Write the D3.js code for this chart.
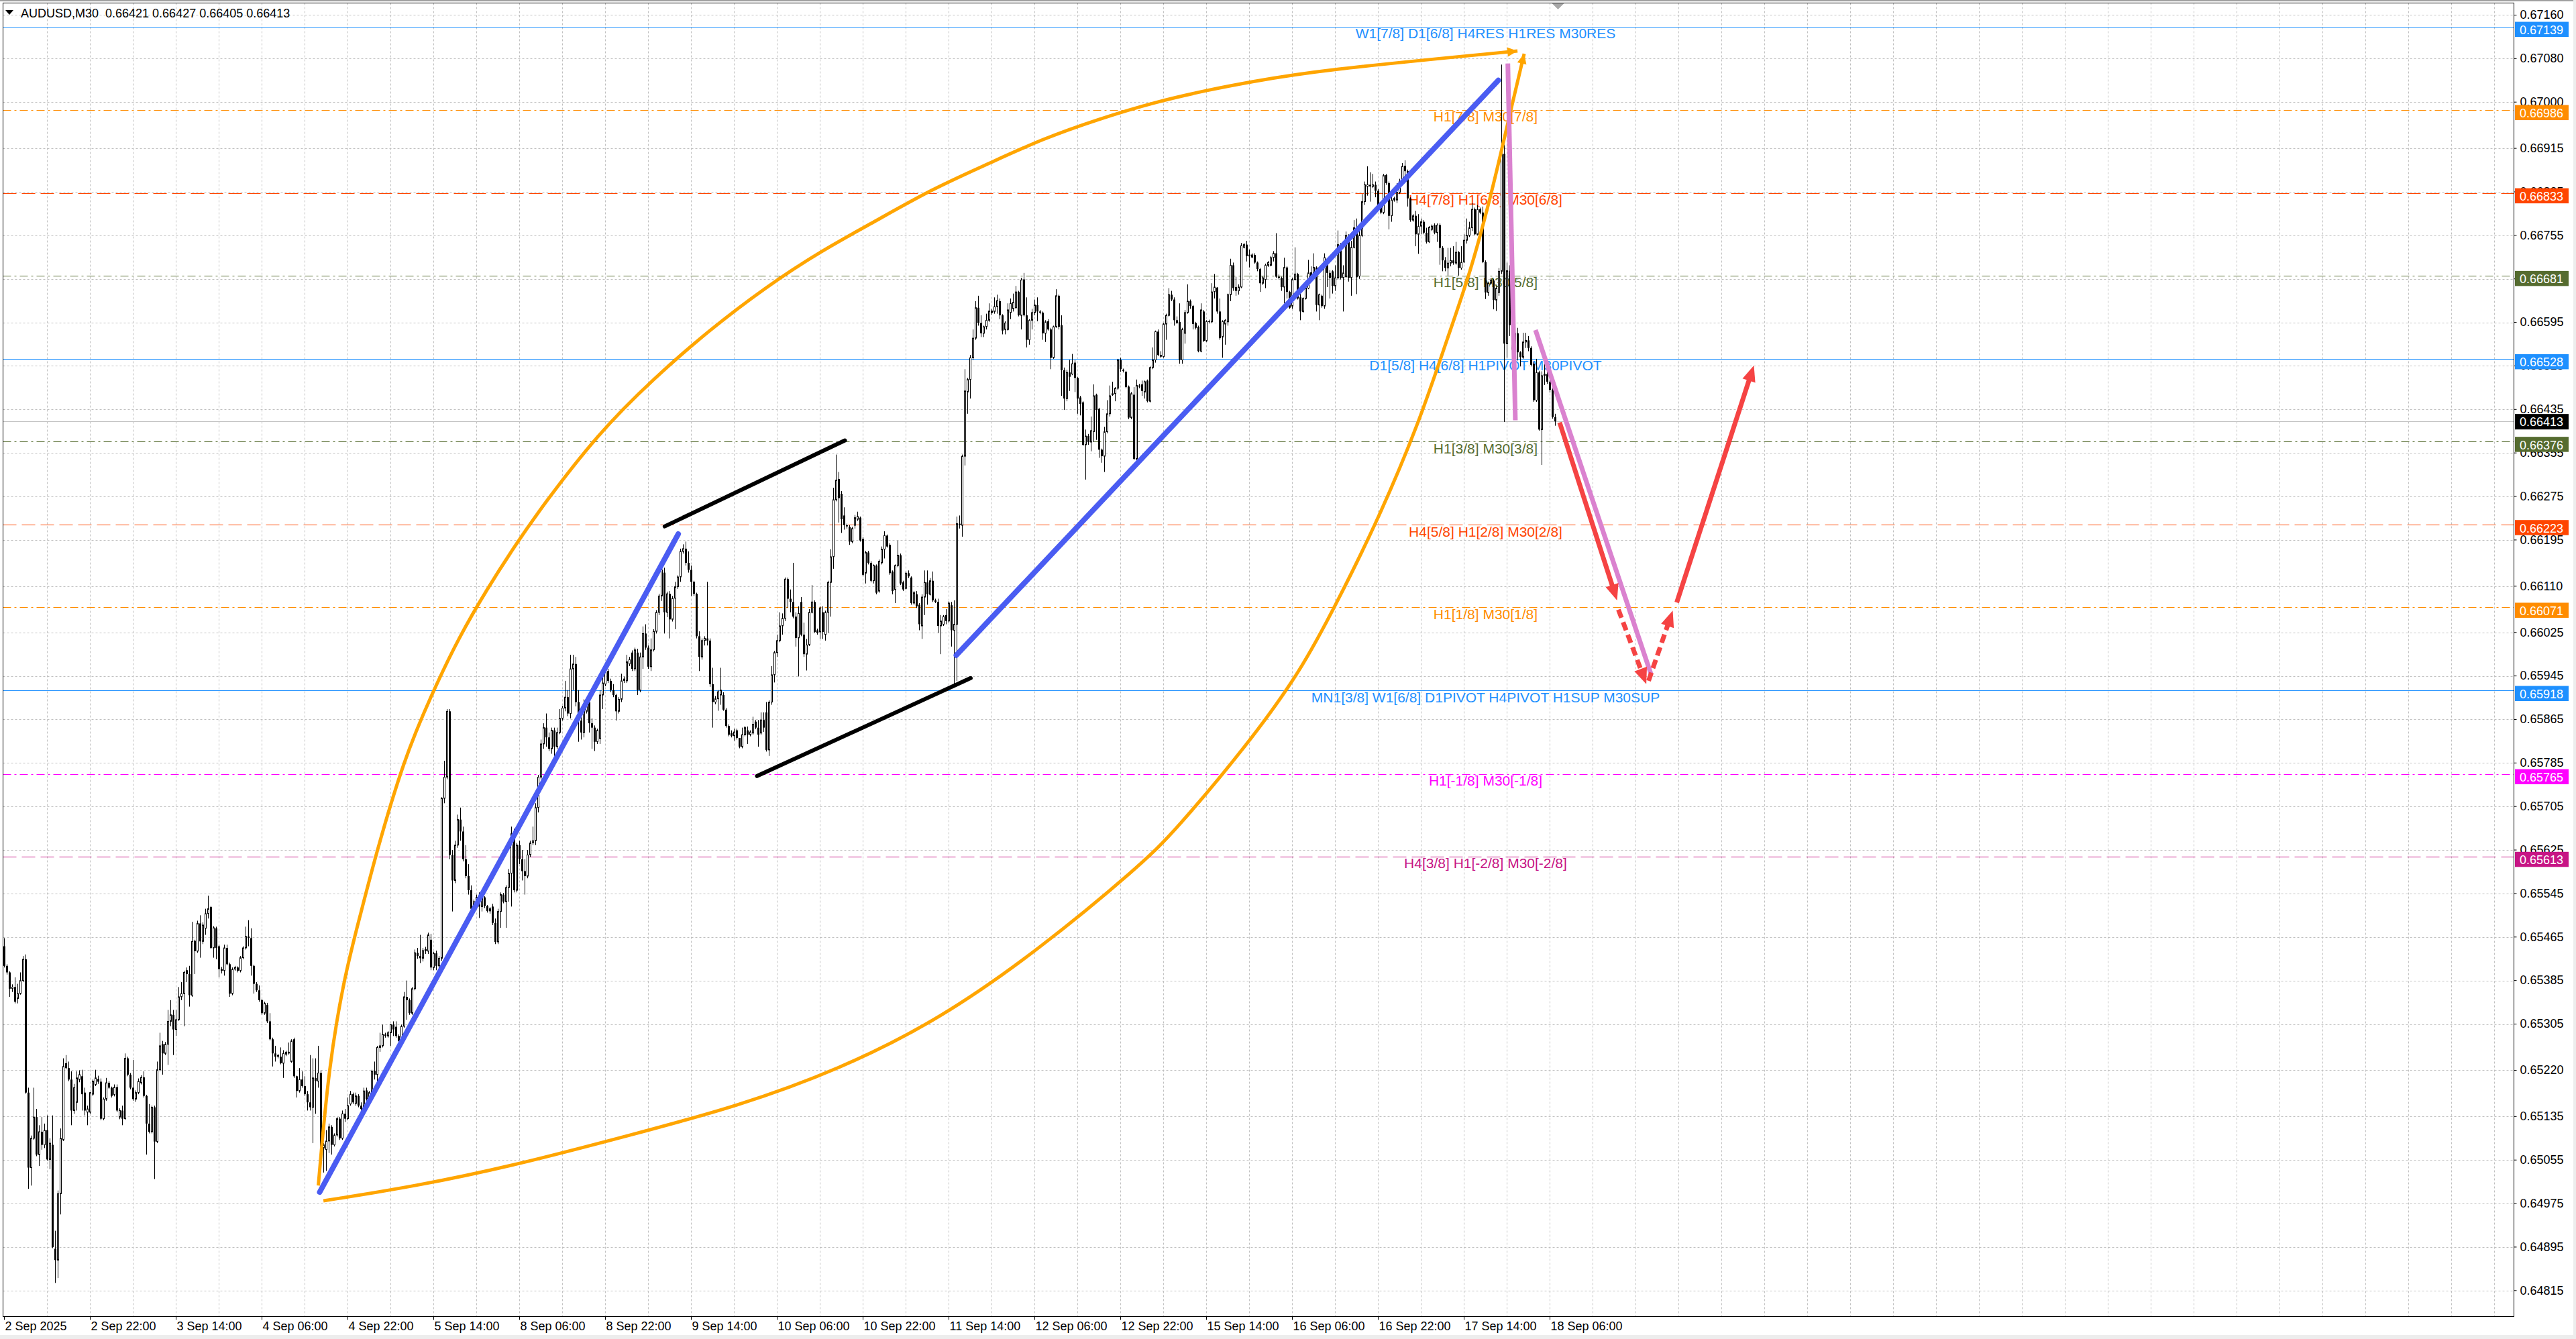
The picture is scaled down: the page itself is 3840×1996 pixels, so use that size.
<!doctype html>
<html lang="en">
<head>
<meta charset="utf-8">
<script src="https://cdnjs.cloudflare.com/ajax/libs/d3/7.8.5/d3.min.js"></script>
<style>
  html, body { margin:0; padding:0; background:#fff; }
  svg { display:block; }
  text { font-family: "Liberation Sans", Arial, sans-serif; }
</style>
</head>
<body>
<svg id="chart" width="3840" height="1996"></svg>
<script>
// AUDUSD M30 candles, prices in points (1e-5)
const opens = [
65448,65412,65400,65370,65373,65352,65361,65385,65424,65179,
65041,65095,65134,65065,65107,65083,65110,65056,65083,64892,
64871,64993,65092,65233,65224,65203,65146,65161,65203,65209,
65179,65143,65143,65176,65194,65204,65199,65131,65167,65197,
65188,65175,65189,65134,65146,65131,65242,65212,65188,65167,
65179,65197,65207,65173,65122,65107,65152,65089,65221,65268,
65251,65268,65310,65322,65295,65313,65355,65361,65404,65397,
65358,65458,65439,65490,65457,65481,65508,65520,65445,65481,
65448,65406,65403,65445,65415,65361,65406,65409,65403,65427,
65445,65466,65463,65412,65379,65367,65349,65325,65340,65310,
65277,65251,65248,65245,65233,65254,65254,65236,65277,65209,
65182,65203,65191,65176,65161,65152,65206,65200,65215,65077,
65074,65090,65116,65083,65101,65131,65095,65140,65131,65158,
65176,65159,65173,65155,65149,65183,65167,65179,65219,65212,
65262,65265,65286,65283,65289,65304,65300,65283,65274,65301,
65355,65349,65325,65370,65436,65430,65426,65443,65439,65460,
65409,65435,65412,65426,65720,65759,65880,65616,65569,65634,
65681,65659,65608,65577,65551,65517,65530,65538,65521,65538,
65522,65513,65521,65491,65456,65512,65543,65530,65556,65582,
65655,65551,65634,65608,65586,65577,65616,65638,65642,65703,
65759,65820,65850,65832,65811,65845,65815,65841,65867,65886,
65906,65876,65958,65967,65897,65863,65841,65880,65897,65858,
65850,65824,65830,65910,65930,65954,65936,65919,65910,65880,
65902,65940,65936,65967,65988,65958,65988,65919,65980,66023,
65997,65962,65993,66027,66062,66092,66135,66062,66096,66049,
66088,66109,66127,66174,66179,66153,66140,66118,66096,66018,
65980,66010,66014,66010,65930,65897,65903,65910,65910,65883,
65853,65840,65835,65845,65831,65815,65837,65845,65837,65840,
65861,65850,65840,65864,65878,65809,65897,65947,65988,66010,
66037,66051,66123,66087,66081,66054,66015,66081,66021,65985,
66002,66062,66081,66029,66026,66062,66021,66062,66117,66164,
66269,66307,66280,66240,66222,66219,66192,66222,66233,66236,
66197,66134,66172,66153,66120,66148,66101,66153,66178,66203,
66186,66137,66104,66148,66167,66117,66106,66134,66126,66079,
66095,66076,66037,66090,66117,66095,66120,66084,66081,66037,
66040,66057,66046,66075,66029,66040,66225,66222,66349,66467,
66490,66530,66566,66622,66594,66575,66587,66599,66613,66615,
66624,66634,66608,66582,66582,66613,66620,66622,66651,66608,
66674,66608,66563,66599,66613,66627,66615,66613,66575,66597,
66582,66530,66587,66644,66590,66507,66455,66503,66500,66521,
66493,66457,66448,66370,66386,66375,66394,66462,66436,66361,
66349,66394,66427,66462,66464,66474,66526,66508,66504,66477,
66420,66462,66344,66479,66481,66467,66488,66450,66512,66526,
66578,66535,66532,66592,66608,66646,66637,66599,66596,66526,
66575,66613,66634,66625,66594,66587,66542,66615,66561,66597,
66596,66651,66659,66615,66568,66592,66596,66646,66700,66660,
66653,66660,66733,66738,66717,66715,66719,66705,66693,66667,
66674,66700,66700,66714,66722,66679,66677,66660,66696,66651,
66625,66674,66684,66641,66615,66639,66658,66687,66677,66696,
66627,66644,66625,66703,66686,66689,66662,66677,66738,66677,
66679,66755,66677,66733,66765,66680,66755,66817,66845,66848,
66845,66848,66837,66811,66797,66866,66851,66791,66820,66820,
66834,66854,66883,66873,66823,66783,66791,66757,66772,66780,
66760,66743,66766,66774,66760,66774,66732,66709,66695,66704,
66709,66704,66724,66695,66706,66746,66755,66769,66803,66757,
66803,66797,66706,66650,66667,66672,66636,66650,66689,66905,
66556,66690,66590,66545,66575,66540,66531,66559,66562,66548,
66519,66452,66503,66398,66497,66500,66486,66471,66421
];
const highs = [
65463,65415,65402,65378,65391,65379,65400,65430,65433,65188,
65100,65188,65149,65119,65134,65122,65137,65095,65137,64925,
64999,65113,65242,65248,65236,65218,65195,65218,65220,65221,
65188,65155,65180,65203,65221,65210,65205,65170,65206,65200,
65190,65194,65194,65150,65155,65251,65245,65215,65239,65183,
65205,65211,65218,65175,65158,65155,65155,65236,65289,65274,
65272,65331,65349,65331,65331,65373,65382,65403,65409,65412,
65493,65460,65495,65505,65492,65517,65541,65522,65485,65484,
65451,65410,65451,65451,65418,65409,65412,65411,65430,65448,
65484,65496,65481,65414,65382,65376,65351,65346,65344,65325,
65280,65265,65250,65262,65257,65256,65271,65277,65280,65210,
65224,65218,65209,65182,65248,65242,65242,65265,65220,65086,
65110,65122,65119,65104,65134,65134,65146,65149,65170,65182,
65179,65179,65176,65161,65188,65188,65182,65221,65236,65265,
65289,65304,65289,65292,65304,65310,65310,65286,65304,65364,
65385,65352,65373,65442,65445,65469,65445,65447,65473,65471,
65438,65440,65430,65722,65789,65884,65884,65625,65642,65690,
65703,65668,65634,65599,65560,65534,65543,65547,65551,65540,
65524,65520,65526,65499,65517,65547,65546,65560,65590,65668,
65664,65638,65642,65625,65608,65625,65642,65668,65711,65763,
65828,65858,65876,65841,65850,65850,65850,65884,65890,65936,
65919,65984,65984,65980,65919,65876,65902,65900,65906,65867,
65854,65848,65919,65949,65958,65958,65940,65930,65912,65906,
65949,65944,65984,65980,65992,65997,65995,65988,66036,66040,
66001,66014,66031,66066,66096,66148,66144,66100,66101,66092,
66118,66130,66179,66187,66192,66174,66148,66120,66098,66027,
66014,66018,66118,66014,65960,65908,65919,65960,65915,65886,
65856,65845,65848,65848,65831,65850,65853,65852,65845,65870,
65864,65864,65878,65878,65897,65900,65963,65991,66021,66062,
66060,66126,66126,66104,66153,66062,66073,66090,66043,66013,
66068,66112,66084,66032,66073,66073,66065,66120,66178,66291,
66352,66320,66285,66255,66225,66222,66219,66241,66247,66238,
66200,66175,66175,66156,66150,66150,66159,66183,66211,66205,
66189,66139,66150,66194,66170,66120,66137,66139,66128,66101,
66101,66079,66095,66139,66139,66125,66137,66087,66087,66057,
66057,66068,66082,66081,66084,66238,66240,66352,66509,66493,
66535,66582,66634,66644,66608,66589,66611,66630,66620,66641,
66646,66639,66610,66597,66630,66639,66648,66662,66653,66677,
66686,66641,66601,66620,66637,66641,66618,66615,66599,66601,
66585,66589,66656,66646,66608,66512,66508,66526,66537,66526,
66495,66460,66450,66398,66390,66422,66481,66464,66438,66363,
66403,66452,66479,66486,66476,66528,66530,66510,66506,66479,
66467,66476,66490,66482,66488,66488,66490,66514,66549,66580,
66582,66542,66594,66611,66658,66653,66641,66606,66630,66585,
66618,66665,66637,66627,66596,66589,66630,66618,66599,66600,
66667,66684,66660,66639,66599,66601,66648,66712,66705,66679,
66665,66741,66741,66745,66729,66722,66722,66707,66695,66680,
66703,66708,66717,66726,66759,66683,66679,66714,66698,66653,
66677,66733,66686,66651,66641,66660,66710,66698,66722,66698,
66648,66646,66722,66705,66691,66691,66700,66764,66741,66700,
66762,66757,66745,66783,66786,66769,66831,66854,66882,66871,
66868,66854,66840,66814,66868,66868,66854,66825,66826,66851,
66859,66888,66893,66876,66825,66794,66800,66794,66786,66783,
66769,66772,66775,66777,66777,66777,66735,66715,66732,66732,
66735,66743,66726,66735,66757,66786,66780,66814,66806,66811,
66806,66808,66709,66670,66676,66675,66661,66695,67069,66922,
66705,66700,66610,66590,66585,66542,66576,66576,66570,66551,
66522,66528,66506,66505,66522,66506,66490,66474,66427
];
const lows = [
65409,65396,65355,65364,65343,65343,65359,65382,65177,65002,
65008,65092,65062,65044,65074,65077,65054,65038,64893,64829,
64838,64955,65090,65222,65200,65119,65140,65146,65198,65146,
65137,65119,65140,65173,65191,65195,65128,65128,65164,65186,
65170,65172,65143,65130,65119,65129,65209,65185,65164,65162,
65176,65194,65170,65065,65104,65104,65020,65086,65218,65212,
65248,65230,65301,65248,65283,65311,65349,65301,65382,65337,
65355,65397,65436,65427,65452,65469,65499,65443,65427,65424,
65391,65398,65394,65413,65355,65358,65403,65400,65400,65424,
65442,65448,65394,65361,65364,65346,65322,65322,65307,65275,
65227,65236,65242,65231,65206,65246,65249,65234,65206,65170,
65179,65188,65173,65146,65146,65086,65140,65188,65074,65032,
65035,65068,65065,65080,65098,65092,65092,65125,65128,65155,
65158,65155,65152,65146,65146,65164,65164,65173,65203,65191,
65254,65262,65280,65280,65265,65283,65280,65271,65271,65298,
65313,65322,65322,65367,65425,65417,65420,65434,65434,65404,
65404,65404,65400,65421,65711,65755,65608,65512,65564,65629,
65642,65604,65573,65543,65504,65512,65526,65500,65512,65518,
65510,65508,65487,65452,65452,65482,65527,65482,65530,65521,
65547,65547,65599,65569,65543,65573,65612,65634,65634,65694,
65755,65811,65815,65807,65802,65798,65811,65838,65863,65880,
65871,65867,65919,65889,65824,65828,65832,65876,65841,65811,
65807,65820,65820,65884,65926,65932,65915,65906,65863,65876,
65897,65932,65932,65963,65954,65954,65910,65915,65958,65993,
65958,65954,65990,66023,66057,66083,66023,66053,66014,66045,
66031,66105,66118,66170,66148,66135,66092,66092,66014,65954,
65975,66001,66001,65925,65850,65893,65881,65892,65881,65850,
65834,65832,65826,65828,65812,65812,65834,65820,65834,65837,
65847,65815,65837,65842,65806,65798,65892,65933,65980,66007,
66021,66046,66070,66062,66051,65999,65944,66018,65980,65955,
66000,66060,66024,66021,66013,66013,66010,66024,66054,66142,
66266,66227,66208,66214,66216,66186,66189,66216,66230,66192,
66128,66115,66150,66117,66115,66095,66098,66150,66161,66181,
66131,66095,66079,66145,66112,66101,66104,66125,66076,66076,
66070,66029,66013,66057,66076,66093,66081,66079,66024,65985,
66037,66040,66043,65999,65930,65936,66216,66201,66332,66427,
66455,66526,66563,66589,66568,66568,66582,66596,66609,66611,
66611,66601,66573,66573,66580,66601,66615,66620,66606,66582,
66606,66549,66554,66582,66608,66597,66610,66563,66559,66580,
66509,66528,66585,66582,66460,66434,66450,66469,66498,66467,
66427,66424,66368,66306,66370,66358,66375,66379,66346,66337,
66320,66391,66422,66460,66450,66471,66504,66503,66474,66417,
66417,66342,66340,66474,66460,66455,66448,66448,66509,66521,
66533,66530,66530,66563,66606,66634,66589,66592,66519,66519,
66556,66611,66620,66582,66582,66540,66540,66559,66559,66593,
66594,66639,66611,66563,66530,66554,66589,66634,66653,66644,
66646,66658,66731,66707,66696,66713,66703,66689,66651,66664,
66658,66697,66698,66707,66677,66674,66653,66630,66639,66620,
66620,66672,66637,66599,66613,66637,66656,66677,66674,66615,
66599,66622,66620,66660,66639,66648,66653,66674,66674,66615,
66677,66670,66644,66731,66647,66675,66752,66811,66828,66817,
66842,66825,66808,66794,66794,66848,66766,66780,66817,66814,
66831,66848,66862,66808,66780,66780,66735,66721,66757,66757,
66740,66741,66763,66757,66743,66701,66689,66689,66681,66698,
66701,66701,66681,66692,66704,66740,66752,66763,66755,66755,
66794,66704,66638,66644,66664,66619,66616,66644,66684,66412,
66530,66570,66520,66530,66525,66514,66528,66548,66542,66514,
66449,66449,66396,66333,66480,66482,66466,66418,66405
];
const closes = [
65412,65400,65370,65373,65346,65361,65385,65424,65179,65041,
65095,65134,65065,65107,65083,65110,65056,65086,64895,64871,
64993,65095,65227,65224,65203,65146,65188,65206,65212,65176,
65146,65149,65179,65200,65206,65199,65131,65167,65197,65188,
65173,65189,65146,65146,65131,65242,65212,65188,65167,65179,
65200,65207,65173,65122,65107,65152,65089,65221,65265,65251,
65268,65310,65322,65295,65313,65355,65361,65400,65397,65358,
65457,65439,65490,65457,65487,65508,65517,65445,65482,65445,
65406,65403,65445,65415,65361,65406,65409,65403,65427,65445,
65466,65463,65412,65379,65367,65349,65325,65343,65310,65277,
65251,65245,65245,65233,65251,65249,65251,65274,65209,65182,
65203,65191,65176,65161,65152,65206,65200,65215,65077,65083,
65090,65116,65083,65101,65131,65095,65140,65131,65155,65176,
65161,65173,65155,65149,65182,65167,65179,65218,65212,65262,
65265,65286,65283,65289,65304,65295,65283,65274,65301,65355,
65349,65325,65370,65436,65430,65426,65440,65439,65469,65409,
65435,65412,65426,65720,65759,65880,65616,65569,65634,65681,
65659,65608,65577,65551,65517,65530,65538,65521,65538,65522,
65513,65517,65491,65456,65512,65543,65530,65556,65582,65655,
65551,65634,65608,65586,65577,65616,65638,65642,65703,65759,
65820,65850,65832,65811,65845,65815,65841,65867,65886,65906,
65876,65958,65967,65897,65863,65841,65880,65897,65858,65850,
65824,65845,65910,65932,65954,65936,65919,65910,65880,65902,
65936,65936,65971,65975,65958,65993,65919,65980,66023,65997,
65962,65993,66027,66062,66092,66140,66062,66096,66049,66088,
66109,66127,66174,66179,66153,66140,66118,66096,66018,65980,
66010,66014,66010,65930,65897,65903,65916,65919,65883,65853,
65837,65835,65842,65831,65815,65837,65850,65837,65842,65856,
65850,65837,65864,65850,65809,65897,65947,65988,66010,66037,
66051,66123,66087,66081,66054,66015,66060,66021,65985,66002,
66062,66081,66026,66024,66070,66026,66062,66117,66164,66269,
66305,66272,66233,66222,66220,66192,66216,66236,66238,66194,
66131,66172,66153,66120,66148,66098,66156,66178,66203,66183,
66134,66101,66148,66167,66115,66104,66134,66128,66079,66098,
66073,66040,66090,66117,66095,66120,66084,66081,66037,66046,
66054,66046,66079,66029,66040,66225,66222,66349,66469,66490,
66530,66566,66622,66594,66575,66587,66599,66616,66616,66624,
66635,66608,66580,66594,66618,66630,66632,66651,66608,66673,
66608,66563,66599,66613,66627,66615,66613,66575,66596,66582,
66530,66587,66644,66587,66507,66455,66503,66495,66519,66493,
66455,66445,66370,66386,66375,66396,66460,66434,66361,66349,
66394,66427,66460,66464,66474,66526,66509,66506,66476,66420,
66464,66344,66479,66477,66469,66486,66450,66512,66526,66578,
66535,66532,66592,66608,66646,66637,66599,66594,66526,66582,
66613,66634,66625,66592,66585,66542,66618,66561,66597,66596,
66651,66660,66615,66566,66597,66599,66646,66700,66658,66653,
66660,66736,66738,66717,66719,66719,66705,66693,66667,66677,
66700,66705,66714,66722,66679,66677,66660,66696,66651,66622,
66674,66684,66639,66615,66639,66658,66686,66679,66696,66627,
66646,66625,66714,66686,66677,66662,66677,66738,66677,66686,
66755,66677,66733,66769,66678,66755,66817,66848,66848,66845,
66848,66837,66811,66797,66865,66851,66791,66820,66823,66834,
66854,66882,66873,66823,66783,66791,66757,66772,66780,66760,
66743,66770,66772,66760,66774,66732,66709,66695,66704,66709,
66704,66724,66695,66706,66746,66755,66769,66803,66757,66803,
66797,66706,66650,66667,66672,66636,66658,66689,66905,66556,
66690,66590,66545,66575,66540,66531,66559,66562,66548,66517,
66452,66503,66398,66497,66500,66486,66471,66421,66413
];

// right price scale labels
const priceTicks = [0.67160,0.67080,0.67000,0.66915,0.66835,0.66755,0.66675,0.66595,0.66515,0.66435,
  0.66355,0.66275,0.66195,0.66110,0.66025,0.65945,0.65865,0.65785,0.65705,0.65625,
  0.65545,0.65465,0.65385,0.65305,0.65220,0.65135,0.65055,0.64975,0.64895,0.64815];

// time scale labels (one every 32 bars)
const timeLabels = ["2 Sep 2025","2 Sep 22:00","3 Sep 14:00","4 Sep 06:00","4 Sep 22:00","5 Sep 14:00",
  "8 Sep 06:00","8 Sep 22:00","9 Sep 14:00","10 Sep 06:00","10 Sep 22:00","11 Sep 14:00",
  "12 Sep 06:00","12 Sep 22:00","15 Sep 14:00","16 Sep 06:00","16 Sep 22:00","17 Sep 14:00","18 Sep 06:00"];

// murrey / pivot levels
const levelPrices = [0.67139,0.66986,0.66833,0.66681,0.66528,0.66376,0.66223,0.66071,0.65918,0.65765,0.65613];
const levelColors = ["#1E90FF","#FF8C00","#FF4500","#556B2F","#1E90FF","#556B2F","#FF4500","#FF8C00","#1E90FF","#FF00FF","#C71585"];
const levelStyles = ["solid","dashdot","dash","dashdot","solid","dashdot","dash","dashdot","solid","dashdot","dash"];
const levelTexts = [
  "W1[7/8] D1[6/8] H4RES H1RES M30RES",
  "H1[7/8] M30[7/8]",
  "H4[7/8] H1[6/8] M30[6/8]",
  "H1[5/8] M30[5/8]",
  "D1[5/8] H4[6/8] H1PIVOT M30PIVOT",
  "H1[3/8] M30[3/8]",
  "H4[5/8] H1[2/8] M30[2/8]",
  "H1[1/8] M30[1/8]",
  "MN1[3/8] W1[6/8] D1PIVOT H4PIVOT H1SUP M30SUP",
  "H1[-1/8] M30[-1/8]",
  "H4[3/8] H1[-2/8] M30[-2/8]"
];
const bidPrice = 0.66413;

// drawn objects, [bar, price]
const arcUpper = [[117,0.65008],[120.9,0.65229],[126.9,0.65397],[132.9,0.65510],[138.4,0.65616],
  [148.75,0.65790],[159.1,0.65910],[169.5,0.66017],[179.8,0.66104],[190.2,0.66184],[200.6,0.66258],
  [221.3,0.66391],[242,0.66492],[262.75,0.66581],[283.5,0.66659],[304.2,0.66726],[324.95,0.66782],
  [345.7,0.66840],[366.4,0.66886],[387.1,0.66933],[407.9,0.66969],[428.6,0.67000],[449.3,0.67023],
  [463.4,0.67036],[488.4,0.67058],[563.9,0.67094]];
const arcLower = [[118.9,0.64980],[153.4,0.65007],[190.1,0.65045],[233.4,0.65101],[273.4,0.65154],
  [310.9,0.65221],[348.4,0.65313],[385.9,0.65443],[423.4,0.65597],[435.9,0.65658],[463.4,0.65819],
  [483.4,0.65956],[496.4,0.66078],[511.1,0.66223],[527.1,0.66408],[538.1,0.66571],[546.6,0.66690],
  [555.1,0.66849],[561.6,0.66990],[566.4,0.67089]];
const blueLines = [[[117.5,0.64996],[251.15,0.66206]], [[354.75,0.65983],[556.75,0.67040]]];
const blackLines = [[[246.1,0.66220],[313.25,0.66378]], [[280.5,0.65761],[360.1,0.65941]]];
const pinkLines = [[[560.3,0.67071],[563.1,0.66415]], [[570.6,0.66581],[613.6,0.65949]]];
const redArrows = [[[579.6,0.66411],[601,0.66084]], [[623.25,0.66080],[652,0.66516]]];
const redDashArrows = [[[601.5,0.66067],[611.9,0.65930]], [[612.75,0.65936],[621.75,0.66065]]];

const svg = d3.select("#chart");
const L = 4.5, R = 3747.5, T = 4.5, B = 1962.5;
const x = d3.scaleLinear().domain([0, 935.25]).range([6.5, 3747.5]);
const y = d3.scaleLinear().domain([0.647679, 0.671828]).range([1962, 4]);
const py = v => Math.round(y(v)) + 0.5;
const fmt = d3.format(".5f");
const font = "Liberation Sans, Arial, sans-serif";

const bars = closes.map((c, i) => {
  const o = opens[i] / 1e5, cl = c / 1e5;
  return { i, o, c: cl, h: Math.max(highs[i] / 1e5, o, cl), l: Math.min(lows[i] / 1e5, o, cl) };
});

// window edges
svg.append("rect").attr("width", 3840).attr("height", 1996).attr("fill", "#fff");
svg.append("rect").attr("width", 3840).attr("height", 2).attr("fill", "#A0A0A0");
svg.append("rect").attr("y", 1990).attr("width", 3840).attr("height", 6).attr("fill", "#EDEDED");
svg.append("rect").attr("x", 3836).attr("width", 4).attr("height", 1996).attr("fill", "#EDEDED");

// grid
const grid = svg.append("g").attr("stroke", "#C0C0C0").attr("stroke-width", 1).attr("stroke-dasharray", "3,3");
grid.selectAll(".gy").data(priceTicks).join("line")
  .attr("x1", L).attr("x2", R).attr("y1", py).attr("y2", py);
grid.selectAll(".gx").data(d3.range(16, 935, 16)).join("line")
  .attr("x1", d => x(d)).attr("x2", d => x(d)).attr("y1", T).attr("y2", B);

// bid line
svg.append("line").attr("x1", L).attr("x2", R).attr("y1", py(bidPrice)).attr("y2", py(bidPrice))
  .attr("stroke", "#C0C0C0");

// level lines and labels
const dashes = { solid: null, dash: "20,8", dashdot: "12,5,3,5" };
const lv = svg.append("g");
lv.selectAll("line").data(levelPrices).join("line")
  .attr("x1", L).attr("x2", R).attr("y1", py).attr("y2", py)
  .attr("stroke", (d, i) => levelColors[i]).attr("stroke-width", 1)
  .attr("stroke-dasharray", (d, i) => dashes[levelStyles[i]]);
lv.selectAll("text").data(levelPrices).join("text")
  .attr("x", x(552)).attr("y", d => y(d) + 17.5)
  .attr("text-anchor", "middle").attr("font-size", 21).attr("font-family", font)
  .attr("fill", (d, i) => levelColors[i]).text((d, i) => levelTexts[i]);

// candles
const cg = svg.append("g");
cg.selectAll("line").data(bars).join("line")
  .attr("x1", d => x(d.i)).attr("x2", d => x(d.i))
  .attr("y1", d => y(d.h)).attr("y2", d => y(d.l))
  .attr("stroke", "#000").attr("stroke-width", 1);
cg.selectAll("rect").data(bars).join("rect")
  .attr("x", d => d.c >= d.o ? x(d.i) - 1 : x(d.i) - 1.5)
  .attr("width", d => d.c >= d.o ? 2 : 3)
  .attr("y", d => y(Math.max(d.o, d.c)))
  .attr("height", d => Math.max(1, Math.abs(y(d.o) - y(d.c))))
  .attr("fill", d => d.c >= d.o ? "#fff" : "#000")
  .attr("stroke", d => d.c >= d.o ? "#000" : "none");

// drawings
const pt = d => [x(d[0]), y(d[1])];
const dg = svg.append("g").attr("fill", "none");

function head(g, a, b, len, half, color) {
  const dx = b[0] - a[0], dy = b[1] - a[1], n = Math.hypot(dx, dy), ux = dx / n, uy = dy / n;
  const bx = b[0] - ux * len, by = b[1] - uy * len;
  g.append("path")
    .attr("d", `M${b[0]},${b[1]}L${bx - uy * half},${by + ux * half}L${bx + uy * half},${by - ux * half}Z`)
    .attr("fill", color).attr("stroke", "none");
}

const curve = d3.line().x(d => x(d[0])).y(d => y(d[1])).curve(d3.curveBasis);
[arcUpper, arcLower].forEach(arc => {
  dg.append("path").attr("d", curve(arc)).attr("stroke", "#FFA500").attr("stroke-width", 5);
  head(dg, pt(arc[arc.length - 2]), pt(arc[arc.length - 1]), 15, 7, "#FFA500");
});

blueLines.forEach(s => dg.append("line")
  .attr("x1", x(s[0][0])).attr("y1", y(s[0][1])).attr("x2", x(s[1][0])).attr("y2", y(s[1][1]))
  .attr("stroke", "#4A5CF2").attr("stroke-width", 8).attr("stroke-linecap", "round"));
blackLines.forEach(s => dg.append("line")
  .attr("x1", x(s[0][0])).attr("y1", y(s[0][1])).attr("x2", x(s[1][0])).attr("y2", y(s[1][1]))
  .attr("stroke", "#000").attr("stroke-width", 6).attr("stroke-linecap", "round"));
pinkLines.forEach(s => dg.append("line")
  .attr("x1", x(s[0][0])).attr("y1", y(s[0][1])).attr("x2", x(s[1][0])).attr("y2", y(s[1][1]))
  .attr("stroke", "#DA82CF").attr("stroke-width", 7));

function redArrow(s, dash) {
  const a = pt(s[0]), b = pt(s[1]);
  const n = Math.hypot(b[0] - a[0], b[1] - a[1]);
  const e = [b[0] - (b[0] - a[0]) / n * 14, b[1] - (b[1] - a[1]) / n * 14];
  dg.append("line").attr("x1", a[0]).attr("y1", a[1]).attr("x2", e[0]).attr("y2", e[1])
    .attr("stroke", "#F54343").attr("stroke-width", 7).attr("stroke-dasharray", dash);
  head(dg, a, b, 24, 10, "#F54343");
}
redArrows.forEach(s => redArrow(s, null));
redDashArrows.forEach(s => redArrow(s, "13,7"));

// frame
svg.append("rect").attr("x", L).attr("y", T).attr("width", R - L).attr("height", B - T)
  .attr("fill", "none").attr("stroke", "#000").attr("stroke-width", 1);

// price axis
const yAxis = d3.axisRight(y).tickValues(priceTicks).tickSize(4).tickSizeOuter(0).tickPadding(5)
  .tickFormat(fmt).offset(0);
svg.append("g").attr("transform", `translate(${R},0)`).call(yAxis)
  .attr("font-size", 18).attr("font-family", font)
  .call(g => g.select(".domain").remove());

// price tags
const tags = svg.append("g").attr("font-size", 18).attr("font-family", font);
levelPrices.forEach((p, i) => {
  tags.append("rect").attr("x", 3749).attr("y", y(p) - 7).attr("width", 80).attr("height", 22.5)
    .attr("fill", levelColors[i]);
  tags.append("text").attr("x", 3756).attr("y", y(p) + 11.5).attr("fill", "#fff").text(fmt(p));
});
tags.append("rect").attr("x", 3749).attr("y", y(bidPrice) - 11).attr("width", 80).attr("height", 23)
  .attr("fill", "#000");
tags.append("text").attr("x", 3756).attr("y", y(bidPrice) + 6.5).attr("fill", "#fff").text(fmt(bidPrice));

// time axis
const xAxis = d3.axisBottom(x).tickValues(timeLabels.map((d, i) => i * 32)).tickSize(5).tickSizeOuter(0)
  .tickFormat((d, i) => timeLabels[i]).offset(0);
svg.append("g").attr("transform", `translate(0,${B})`).call(xAxis)
  .attr("font-size", 18).attr("font-family", font)
  .call(g => g.select(".domain").remove())
  .call(g => g.selectAll("text").attr("text-anchor", "start").attr("x", 1));

// chart shift marker
const sx = x(579);
svg.append("path").attr("d", `M${sx - 9},5L${sx + 9},5L${sx},14Z`).attr("fill", "#A8A8A8");

// title
const last = bars[bars.length - 1];
svg.append("path").attr("d", "M8,15L20,15L14,22Z").attr("fill", "#000");
svg.append("text").attr("x", 31).attr("y", 26).attr("font-size", 18).attr("font-family", font)
  .style("white-space", "pre")
  .text(`AUDUSD,M30  ${fmt(last.o)} ${fmt(last.h)} ${fmt(last.l)} ${fmt(last.c)}`);
</script>
</body>
</html>
